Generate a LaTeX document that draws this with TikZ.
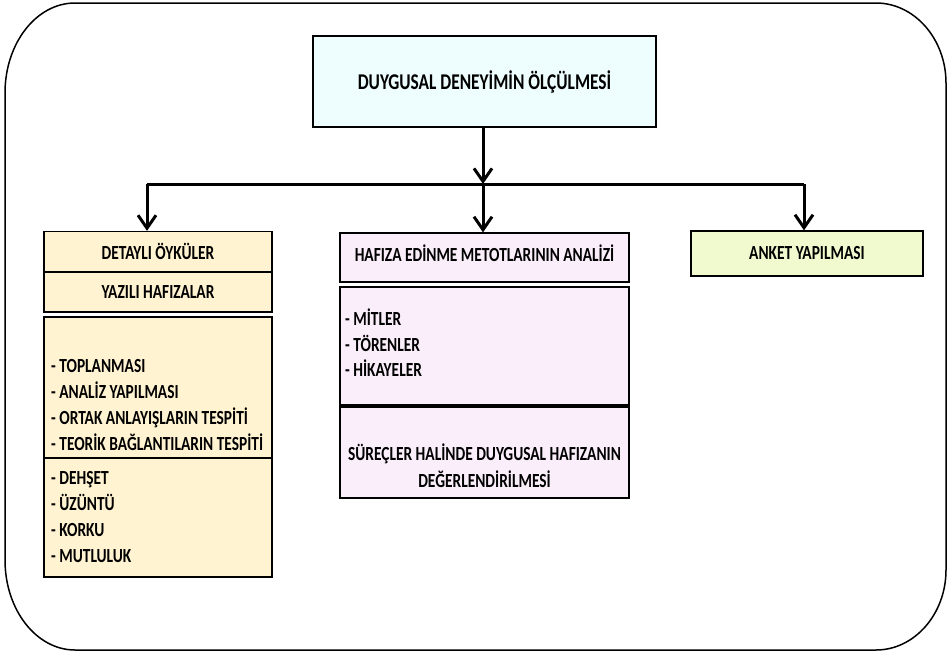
\documentclass[tikz,border=0pt]{standalone}
\usepackage{fontspec}
\setmainfont{Carlito}[FakeStretch=0.77]
\usetikzlibrary{arrows.meta}
\definecolor{titlefill}{HTML}{EEFDFD}
\definecolor{leftfill}{HTML}{FFF3D1}
\definecolor{midfill}{HTML}{FAEEFA}
\definecolor{rightfill}{HTML}{F1F9CE}
\tikzset{
  box/.style={draw=black, line width=1.3pt, inner sep=0pt, font=\bfseries\fontsize{20}{26}\selectfont},
  lbl/.style={inner sep=0pt, align=center, font=\bfseries\fontsize{20}{27}\selectfont},
  listtxt/.style={anchor=north west, align=left, inner sep=0pt, font=\bfseries\fontsize{20}{26}\selectfont},
  arr/.style={line width=3pt, -{Straight Barb[length=13pt,width=18pt,line width=3pt]}},
  link/.style={line width=3pt}
}
\begin{document}
\begin{tikzpicture}[x=1pt,y=-1pt]
\useasboundingbox (0,0) rectangle (948,654);
% outer frame with elliptical corners
\draw[line width=1.5pt]
  (75,3) -- (876,3)
  .. controls (914.5,3) and (946,39) .. (946,83)
  -- (946,570)
  .. controls (946,614) and (914.5,650) .. (876,650)
  -- (75,650)
  .. controls (36.5,650) and (5,610) .. (5,560)
  -- (5,93)
  .. controls (5,43) and (36.5,3) .. (75,3);

% title
\node[box, fill=titlefill, minimum width=343pt, minimum height=91pt,
      font=\bfseries\fontsize{22.5}{26}\selectfont] (title) at (484.5,81.5)
  {DUYGUSAL DENEYİMİN ÖLÇÜLMESİ};

% left column
\node[box, fill=leftfill, minimum width=228pt, minimum height=40pt] (detay) at (158,251.5) {DETAYLI ÖYKÜLER};
\node[box, fill=leftfill, minimum width=228pt, minimum height=40pt] (yazili) at (158,292) {YAZILI HAFIZALAR};
\node[box, fill=leftfill, minimum width=228pt, minimum height=141pt] (adim) at (158,387.5) {};
\node[box, fill=leftfill, minimum width=228pt, minimum height=119pt] (duygu) at (158,517.5) {};
\node[listtxt] (adimtxt) at (51,359)
  {- TOPLANMASI\\- ANALİZ YAPILMASI\\- ORTAK ANLAYIŞLARIN TESPİTİ\\- TEORİK BAĞLANTILARIN TESPİTİ};
\node[listtxt] (duygutxt) at (51,471)
  {- DEHŞET\\- ÜZÜNTÜ\\- KORKU\\- MUTLULUK};

% middle column
\node[box, fill=midfill, minimum width=289pt, minimum height=49pt] (hafiza) at (484.5,257.5) {};
\node[lbl] (hafizatxt) at (484.5,253) {HAFIZA EDİNME METOTLARININ ANALİZİ};
\node[box, fill=midfill, minimum width=289pt, minimum height=118pt] (mit) at (484.5,346) {};
\node[listtxt, font=\bfseries\fontsize{20}{25.5}\selectfont] (mittxt) at (345,309) {- MİTLER\\- TÖRENLER\\- HİKAYELER};
\node[box, fill=midfill, minimum width=289pt, minimum height=91pt] (surec) at (484.5,452.5) {};
\node[lbl] (surectxt) at (484.5,466)
  {SÜREÇLER HALİNDE DUYGUSAL HAFIZANIN\\DEĞERLENDİRİLMESİ};

% right column
\node[box, fill=rightfill, minimum width=232pt, minimum height=45pt] (anket) at (807,253.5) {ANKET YAPILMASI};

% connectors
\coordinate (j) at (483,184);
\coordinate (jl) at (147,184);
\coordinate (jr) at (804,184);
\draw[arr] (title.south -| j) -- (j);
\draw[link] (jl) -- (jr);
\draw[arr] (jl) -- (jl |- detay.north);
\draw[arr] (j) -- (j |- hafiza.north);
\draw[arr] (jr) -- (jr |- anket.north);
\end{tikzpicture}
\end{document}
